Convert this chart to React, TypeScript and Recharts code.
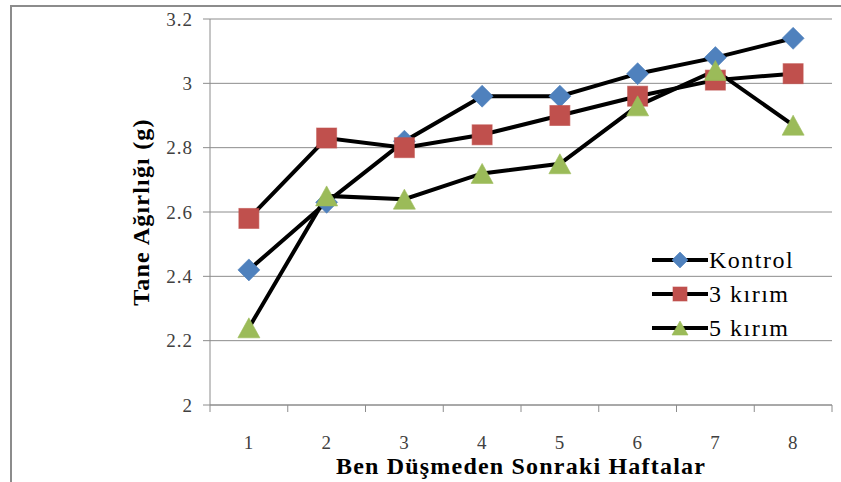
import { LineChart, Line, XAxis, YAxis, CartesianGrid } from "recharts";

const weeks = [1, 2, 3, 4, 5, 6, 7, 8];
const kontrol = [2.42, 2.63, 2.82, 2.96, 2.96, 3.03, 3.08, 3.14];
const kirim3 = [2.58, 2.83, 2.8, 2.84, 2.9, 2.96, 3.01, 3.03];
const kirim5 = [2.24, 2.65, 2.64, 2.72, 2.75, 2.93, 3.04, 2.87];

const yTicks = [2, 2.2, 2.4, 2.6, 2.8, 3, 3.2];
const xTicks = [0.5, 1, 1.5, 2, 2.5, 3, 3.5, 4, 4.5, 5, 5.5, 6, 6.5, 7, 7.5, 8, 8.5];

const seriesKeys = ["kontrol", "kirim3", "kirim5"];
const seriesNames = ["Kontrol", "3 kırım", "5 kırım"];
const seriesColors = ["#4F81BD", "#C0504D", "#9BBB59"];
const seriesShapes = ["diamond", "square", "triangle"];

const data = weeks.map((w, i) => ({
  week: w,
  kontrol: kontrol[i],
  kirim3: kirim3[i],
  kirim5: kirim5[i],
}));

const GRAY = "#8c8c8c";
const SERIF = "'Liberation Serif', 'Times New Roman', serif";

function Marker({ shape, cx, cy, color, r }: { shape: string; cx: number; cy: number; color: string; r: number }) {
  if (shape === "diamond") {
    return (
      <polygon
        points={`${cx},${cy - r - 1} ${cx + r + 1},${cy} ${cx},${cy + r + 1} ${cx - r - 1},${cy}`}
        fill={color}
        stroke={color}
        strokeOpacity={0.6}
      />
    );
  }
  if (shape === "square") {
    return <rect x={cx - r} y={cy - r} width={r * 2} height={r * 2} fill={color} stroke={color} strokeOpacity={0.6} />;
  }
  return (
    <polygon
      points={`${cx},${cy - r} ${cx + r + 1},${cy + r} ${cx - r - 1},${cy + r}`}
      fill={color}
      stroke={color}
      strokeOpacity={0.6}
    />
  );
}

function XTick(props: any) {
  const { x, y, payload } = props;
  const v = payload.value;
  if (Number.isInteger(v)) {
    return (
      <text x={x} y={y + 44} textAnchor="middle" fontSize={19} fontFamily={SERIF} fill="#404040" letterSpacing={1}>
        {v}
      </text>
    );
  }
  return <line x1={x} y1={y} x2={x} y2={y + 7} stroke={GRAY} strokeWidth={1} />;
}

function LegendBox() {
  return (
    <div style={{ position: "absolute", left: 651, top: 243, fontFamily: SERIF }}>
      {seriesNames.map((name, i) => (
        <div key={name} style={{ display: "flex", alignItems: "center", height: 34 }}>
          <svg width={58} height={24}>
            <line x1={1} y1={12} x2={57} y2={12} stroke="#000" strokeWidth={4} />
            <Marker shape={seriesShapes[i]} cx={29} cy={12} color={seriesColors[i]} r={7} />
          </svg>
          <span style={{ fontSize: 24, letterSpacing: 1.5, color: "#000", lineHeight: "34px" }}>{name}</span>
        </div>
      ))}
    </div>
  );
}

export default function App() {
  return (
    <div style={{ position: "absolute", left: 0, top: 0, width: 841, height: 482, background: "#fff", overflow: "hidden" }}>
      <div
        style={{
          position: "absolute",
          left: 10,
          top: 5,
          width: 831,
          height: 477,
          borderLeft: `2px solid ${GRAY}`,
          borderTop: `2px solid ${GRAY}`,
        }}
      />
      <LineChart width={841} height={482} data={data} margin={{ top: 19, right: 9, left: 70, bottom: 0 }}>
        <CartesianGrid vertical={false} stroke={GRAY} strokeWidth={1} />
        <XAxis
          dataKey="week"
          type="number"
          domain={[0.5, 8.5]}
          ticks={xTicks}
          interval={0}
          height={77}
          tickLine={false}
          tickSize={0}
          tickMargin={0}
          axisLine={{ stroke: GRAY }}
          tick={<XTick />}
          label={{
            value: "Ben Düşmeden Sonraki Haftalar",
            position: "insideBottom",
            offset: 8,
            style: { fontFamily: SERIF, fontSize: 24, fontWeight: "bold", fill: "#000", letterSpacing: 1.2 },
          }}
        />
        <YAxis
          domain={[2, 3.2]}
          ticks={yTicks}
          interval={0}
          width={140}
          tickSize={7}
          tickMargin={10}
          tickLine={{ stroke: GRAY }}
          axisLine={{ stroke: GRAY }}
          tick={{ fontFamily: SERIF, fontSize: 19, fill: "#404040", letterSpacing: 1 }}
          label={{
            value: "Tane Ağırlığı (g)",
            angle: -90,
            position: "center",
            style: { fontFamily: SERIF, fontSize: 24, fontWeight: "bold", fill: "#000", letterSpacing: 1.2 },
          }}
        />
        {seriesKeys.map((key, i) => (
          <Line
            key={key}
            dataKey={key}
            name={seriesNames[i]}
            type="linear"
            stroke="#000"
            strokeWidth={4}
            isAnimationActive={false}
            dot={(p: any) => (
              <Marker key={`${key}-${p.index}`} shape={seriesShapes[i]} cx={p.cx} cy={p.cy} color={seriesColors[i]} r={10} />
            )}
            activeDot={false}
          />
        ))}
      </LineChart>
      <LegendBox />
    </div>
  );
}
